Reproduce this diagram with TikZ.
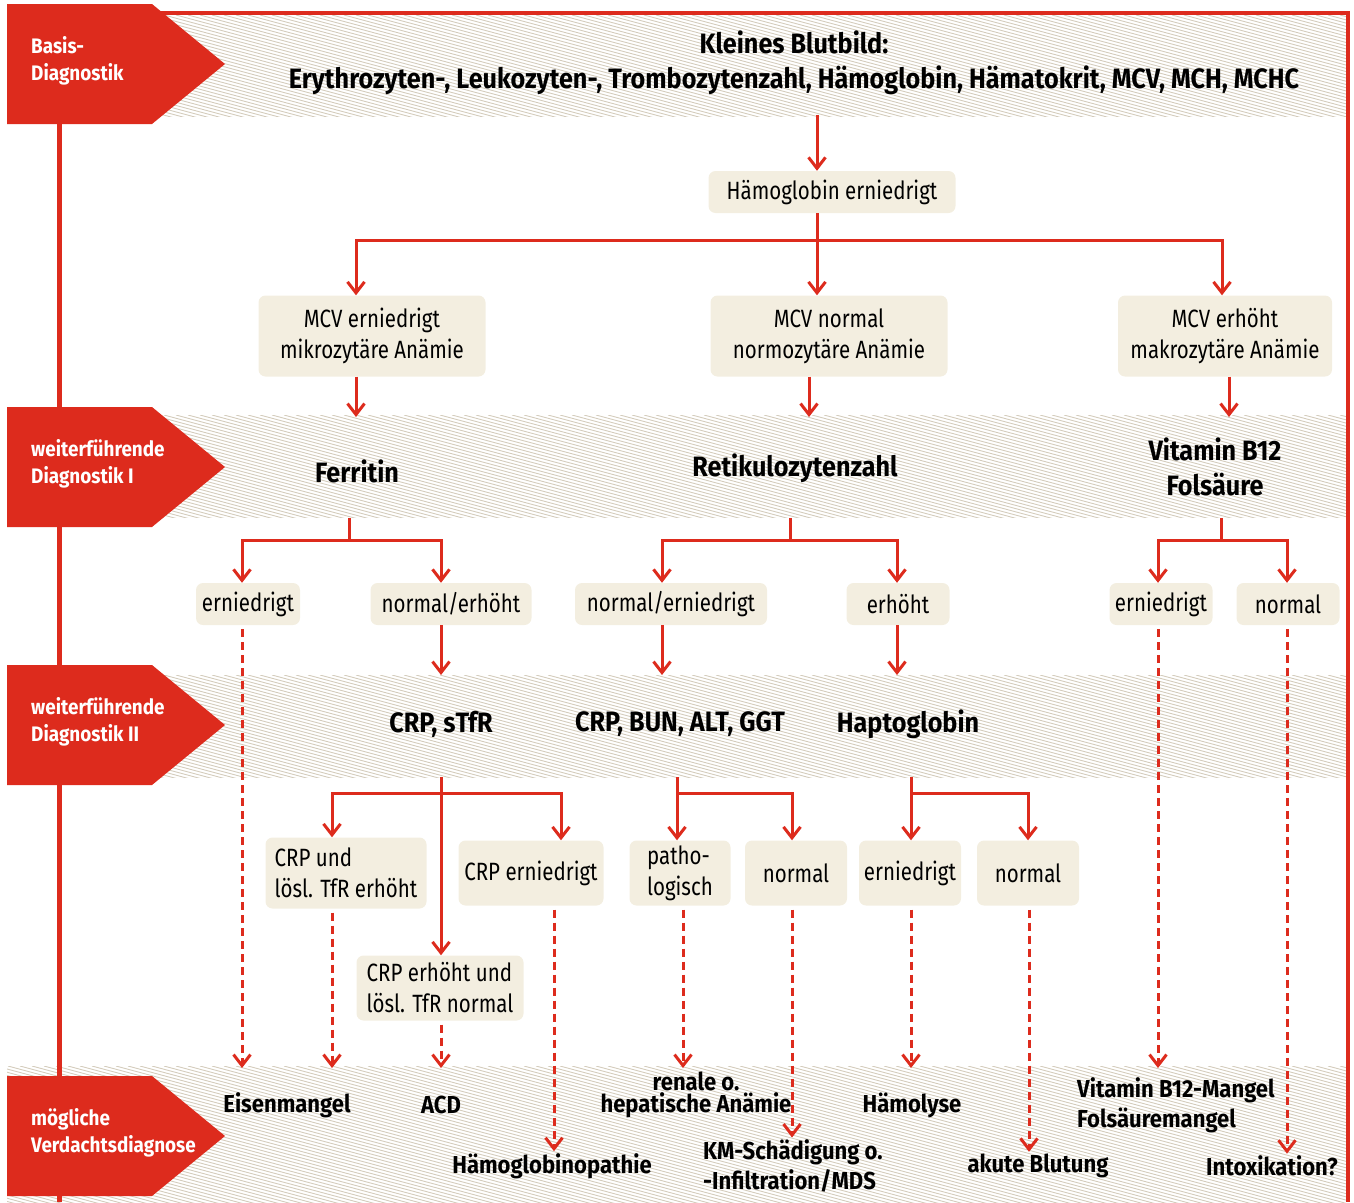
\documentclass[tikz,border=0pt]{standalone}
\usepackage{fontspec}
\setmainfont[FakeStretch=0.82, BoldFeatures={FakeStretch=0.9}]{Fira Sans}
\usetikzlibrary{arrows.meta,positioning,calc}

\definecolor{dxred}{RGB}{221,43,29}
\definecolor{boxbeige}{RGB}{243,238,224}
\definecolor{hatchgray}{RGB}{212,204,188}

\tikzset{
  box/.style={fill=boxbeige, rounded corners=7pt, align=center, inner sep=0pt,
    font=\fontsize{25}{31}\selectfont},
  head/.style={align=center, inner sep=2pt, font=\bfseries\fontsize{28}{35}\selectfont},
  diag/.style={align=center, inner sep=2pt, font=\bfseries\fontsize{24.5}{30}\selectfont},
  lab/.style={text=white, align=left, anchor=west, inner sep=0pt,
    font=\bfseries\fontsize{21}{27}\selectfont},
  tree/.style={draw=dxred, line width=3pt},
  arr/.style={tree, -{Straight Barb[length=11pt,width=17pt]}},
  darr/.style={arr, dash pattern=on 8pt off 5pt, shorten <=4pt},
  hatch/.style={draw=hatchgray, line width=0.9pt}
}

% hatched band: x1, y1, x2, y2
\newcommand{\hatchband}[4]{%
  \begin{scope}
    \clip (#1,#2) rectangle (#3,#4);
    \foreach \hx in {-520,-508,...,1350}
      \draw[hatch] (\hx,#2) -- ++(520,140);
  \end{scope}}

\begin{document}
\begin{tikzpicture}[x=1pt, y=-1pt]
	\useasboundingbox (0,0) rectangle (1354,1202);
	%bands
	\hatchband{160}{15}{1346}{116}
	\hatchband{160}{415}{1346}{517}
	\hatchband{160}{675}{1346}{777}
	\hatchband{7}{1066}{1346}{1202}
	%frame
	\draw[dxred, line width=4pt] (160,13) -- (1348,13) -- (1348,1202);
	\draw[dxred, line width=5pt] (59,124) -- (59,1202);
	%stage labels
	\foreach \ly/\ltxt [count=\li] in {64/{Basis-\\Diagnostik}, 467/{weiterführende\\Diagnostik I},
	    725/{weiterführende\\Diagnostik II}, 1136/{mögliche\\Verdachtsdiagnose}} {
	  \fill[dxred] (7,\ly-60) -- (152,\ly-60) -- (225,\ly) -- (152,\ly+60) -- (7,\ly+60) -- cycle;
	  \node[lab] (lab\li) at (31,\ly-3) {\ltxt};
	}

	%basis
	\node[head] (bb) at (794,63) {Kleines Blutbild:\\Erythrozyten-, Leukozyten-, Trombozytenzahl, Hämoglobin, Hämatokrit, MCV, MCH, MCHC};
	\node[box, minimum width=247, minimum height=42] (hb) at (832,192) {Hämoglobin erniedrigt};
	\node[box, minimum width=227, minimum height=81] (mcvlow) at (372,336) {MCV erniedrigt\\mikrozytäre Anämie};
	\node[box, minimum width=237, minimum height=81] (mcvnorm) at (829,336) {MCV normal\\normozytäre Anämie};
	\node[box, minimum width=214, minimum height=81] (mcvhigh) at (1225,336) {MCV erhöht\\makrozytäre Anämie};

	%weiterfuehrende Diagnostik I
	\node[head] (ferr) at (357,471) {Ferritin};
	\node[head] (reti) at (795,468) {Retikulozytenzahl};
	\node[head] (vit) at (1215,467) {Vitamin B12\\Folsäure};
	\node[box, minimum width=104, minimum height=42] (ferrlow) at (248,604) {erniedrigt};
	\node[box, minimum width=161, minimum height=42] (ferrhigh) at (451,604) {normal/erhöht};
	\node[box, minimum width=192, minimum height=42] (retilow) at (671,604) {normal/erniedrigt};
	\node[box, minimum width=103, minimum height=42] (retihigh) at (898,604) {erhöht};
	\node[box, minimum width=103, minimum height=42] (vitlow) at (1161,604) {erniedrigt};
	\node[box, minimum width=103, minimum height=42] (vitnorm) at (1288,604) {normal};

	%weiterfuehrende Diagnostik II
	\node[head] (crps) at (441,724) {CRP, sTfR};
	\node[head] (crpb) at (680,724) {CRP, BUN, ALT, GGT};
	\node[head] (hapto) at (908,724) {Haptoglobin};
	\node[box, align=left, minimum width=161, minimum height=71] (crpup) at (346,873) {CRP und\\lösl. TfR erhöht};
	\node[box, minimum width=145, minimum height=65] (crplow) at (531,873) {CRP erniedrigt};
	\node[box, align=left, minimum width=101, minimum height=65] (patho) at (680,873) {patho-\\logisch};
	\node[box, minimum width=102, minimum height=65] (bunnorm) at (796,873) {normal};
	\node[box, minimum width=102, minimum height=65] (haptolow) at (910,873) {erniedrigt};
	\node[box, minimum width=102, minimum height=65] (haptonorm) at (1028,873) {normal};
	\node[box, align=left, minimum width=167, minimum height=65] (crpmix) at (440,988) {CRP erhöht und\\lösl. TfR normal};

	%moegliche Verdachtsdiagnose
	\node[diag] (eisen) at (287,1105) {Eisenmangel};
	\node[diag] (acd) at (441,1105) {ACD};
	\node[diag, font=\bfseries\fontsize{24.5}{22}\selectfont] (renal) at (696,1095) {renale o.\\hepatische Anämie};
	\node[diag] (haemo) at (912,1105) {Hämolyse};
	\node[diag, align=left, anchor=west] (vitdef) at (1075,1105) {Vitamin B12-Mangel\\Folsäuremangel};
	\node[diag] (hbpath) at (552,1166) {Hämoglobinopathie};
	\node[diag, align=left, anchor=west] (km) at (701,1166) {KM-Schädigung o.\\-Infiltration/MDS};
	\node[diag] (blut) at (1038,1166) {akute Blutung};
	\node[diag] (intox) at (1272,1166) {Intoxikation?};

	%arrows basis
	\draw[arr] (817,115) -- (817,0 |- hb.north);
	\draw[tree] (817,0 |- hb.south) -- (817,240) coordinate (f1);
	\draw[arr] (f1) -- (817,0 |- mcvnorm.north);
	\draw[arr] (f1) -| (356,0 |- mcvlow.north);
	\draw[arr] (f1) -| (1222,0 |- mcvhigh.north);
	\draw[arr] (356,0 |- mcvlow.south) -- (356,417);
	\draw[arr] (809,0 |- mcvnorm.south) -- (809,417);
	\draw[arr] (1229,0 |- mcvhigh.south) -- (1229,417);

	%arrows stage I
	\draw[tree] (349,518) -- (349,540) coordinate (f2);
	\draw[arr] (f2) -| (242,0 |- ferrlow.north);
	\draw[arr] (f2) -| (441,0 |- ferrhigh.north);
	\draw[tree] (790,518) -- (790,540) coordinate (f3);
	\draw[arr] (f3) -| (662,0 |- retilow.north);
	\draw[arr] (f3) -| (897,0 |- retihigh.north);
	\draw[tree] (1221,518) -- (1221,540) coordinate (f4);
	\draw[arr] (f4) -| (1158,0 |- vitlow.north);
	\draw[arr] (f4) -| (1287,0 |- vitnorm.north);
	\draw[darr] (242,0 |- ferrlow.south) -- (242,1068);
	\draw[arr] (441,0 |- ferrhigh.south) -- (441,675);
	\draw[arr] (662,0 |- retilow.south) -- (662,675);
	\draw[arr] (897,0 |- retihigh.south) -- (897,675);
	\draw[darr] (1158,0 |- vitlow.south) -- (1158,1068);
	\draw[darr] (1287,0 |- vitnorm.south) -- (1287,0 |- intox.north);

	%arrows stage II
	\draw[tree] (441,777) -- (441,793) coordinate (f5);
	\draw[arr] (f5) -- (441,0 |- crpmix.north);
	\draw[arr] (f5) -| (332,0 |- crpup.north);
	\draw[arr] (f5) -| (561,0 |- crplow.north);
	\draw[tree] (677,777) -- (677,793) coordinate (f6);
	\draw[arr] (f6) -- (677,0 |- patho.north);
	\draw[arr] (f6) -| (792,0 |- bunnorm.north);
	\draw[tree] (911,777) -- (911,793) coordinate (f7);
	\draw[arr] (f7) -- (911,0 |- haptolow.north);
	\draw[arr] (f7) -| (1028,0 |- haptonorm.north);

	%arrows to diagnoses
	\draw[darr] (332,0 |- crpup.south) -- (332,1068);
	\draw[darr] (441,0 |- crpmix.south) -- (441,1068);
	\draw[darr] (554,0 |- crplow.south) -- (554,0 |- hbpath.north);
	\draw[darr] (683,0 |- patho.south) -- (683,1068);
	\draw[darr] (792,0 |- bunnorm.south) -- (792,0 |- km.north);
	\draw[darr] (911,0 |- haptolow.south) -- (911,1068);
	\draw[darr] (1029,0 |- haptonorm.south) -- (1029,0 |- blut.north);
\end{tikzpicture}
\end{document}
